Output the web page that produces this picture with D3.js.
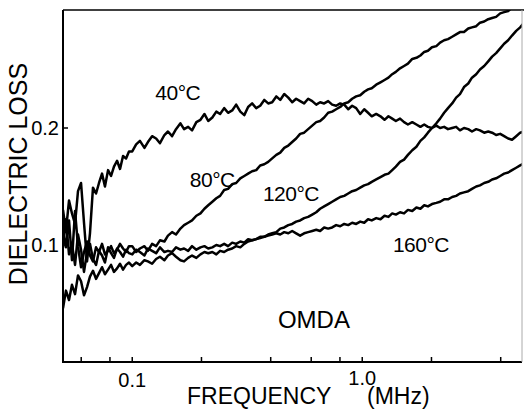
<!DOCTYPE html>
<html>
<head>
<meta charset="utf-8">
<script src="https://cdn.jsdelivr.net/npm/d3@7"></script>
<style>
  body { margin: 0; background: #fff; }
  text { font-family: "Liberation Sans", Arial, sans-serif; fill: #000; }
</style>
</head>
<body>
<div id="chart"></div>
<script>
// ---------------------------------------
// data (frequency in MHz, dielectric loss)
const freq = [
  0.0500, 0.0515, 0.0531, 0.0547, 0.0564, 0.0581, 0.0599, 0.0617, 0.0636, 0.0655, 0.0675, 0.0696,
  0.0717, 0.0739, 0.0761, 0.0785, 0.0809, 0.0833, 0.0859, 0.0885, 0.0912, 0.0940, 0.0968,
  0.100, 0.104, 0.108, 0.113, 0.117, 0.122, 0.127, 0.132, 0.138, 0.143, 0.149, 0.155, 0.162, 0.168,
  0.175, 0.182, 0.190, 0.198, 0.206, 0.214, 0.223, 0.232, 0.241, 0.251, 0.261, 0.272, 0.283, 0.295,
  0.307, 0.319, 0.332, 0.346, 0.360, 0.375, 0.390, 0.406, 0.423, 0.440, 0.458, 0.477, 0.496, 0.516,
  0.537, 0.559, 0.582, 0.606, 0.631, 0.656, 0.683, 0.711, 0.740, 0.770, 0.802, 0.835, 0.869, 0.904,
  0.941, 0.980, 1.02, 1.06, 1.10, 1.15, 1.20, 1.25, 1.30, 1.35, 1.40, 1.46, 1.52, 1.58, 1.65, 1.72,
  1.79, 1.86, 1.93, 2.01, 2.10, 2.18, 2.27, 2.36, 2.46, 2.56, 2.66, 2.77, 2.89, 3.00, 3.13, 3.25,
  3.39, 3.53, 3.67, 3.82, 3.98, 4.14, 4.31, 4.48, 4.67, 4.86, 5.06
];

const loss40 = [
  0.130, 0.112, 0.138, 0.127, 0.118, 0.146, 0.153, 0.119, 0.086, 0.110, 0.149, 0.144,
  0.153, 0.161, 0.150, 0.164, 0.159, 0.167, 0.172, 0.165, 0.176, 0.174, 0.180,
  0.180, 0.186, 0.189, 0.183, 0.188, 0.193, 0.191, 0.187, 0.194, 0.197, 0.193, 0.199, 0.204, 0.199,
  0.201, 0.198, 0.205, 0.207, 0.212, 0.206, 0.209, 0.214, 0.212, 0.217, 0.213, 0.215, 0.220, 0.214,
  0.211, 0.218, 0.221, 0.217, 0.219, 0.224, 0.221, 0.222, 0.227, 0.224, 0.229, 0.226, 0.222, 0.225,
  0.223, 0.221, 0.225, 0.223, 0.220, 0.222, 0.221, 0.223, 0.220, 0.219, 0.221, 0.220, 0.216, 0.219,
  0.217, 0.212, 0.216, 0.213, 0.210, 0.212, 0.210, 0.207, 0.210, 0.208, 0.206, 0.208, 0.205, 0.203,
  0.205, 0.203, 0.201, 0.203, 0.201, 0.200, 0.202, 0.200, 0.201, 0.199, 0.200, 0.201, 0.198, 0.200,
  0.199, 0.197, 0.199, 0.198, 0.196, 0.197, 0.196, 0.194, 0.195, 0.193, 0.191, 0.190, 0.193, 0.196,
  0.197
];

const loss80 = [
  0.112, 0.098, 0.121, 0.087, 0.129, 0.099, 0.081, 0.094, 0.103, 0.091, 0.086, 0.098,
  0.094, 0.101, 0.092, 0.095, 0.099, 0.093, 0.096, 0.101, 0.097, 0.094, 0.099,
  0.099, 0.094, 0.097, 0.099, 0.095, 0.101, 0.099, 0.104, 0.103, 0.108, 0.111, 0.109, 0.114, 0.117,
  0.119, 0.121, 0.125, 0.127, 0.131, 0.134, 0.137, 0.140, 0.142, 0.147, 0.148, 0.152, 0.153, 0.157,
  0.159, 0.161, 0.163, 0.164, 0.168, 0.169, 0.171, 0.174, 0.177, 0.179, 0.183, 0.185, 0.188, 0.191,
  0.195, 0.196, 0.199, 0.202, 0.205, 0.206, 0.209, 0.213, 0.214, 0.216, 0.218, 0.221, 0.222, 0.225,
  0.227, 0.228, 0.231, 0.233, 0.234, 0.237, 0.239, 0.241, 0.243, 0.246, 0.248, 0.251, 0.253, 0.255,
  0.259, 0.260, 0.262, 0.265, 0.266, 0.269, 0.270, 0.273, 0.275, 0.276, 0.278, 0.280, 0.282, 0.282,
  0.285, 0.286, 0.287, 0.290, 0.291, 0.293, 0.294, 0.295, 0.298, 0.299, 0.300, 0.303, 0.304, 0.306,
  0.308
];

const loss120 = [
  0.098, 0.122, 0.092, 0.101, 0.083, 0.109, 0.096, 0.077, 0.094, 0.101, 0.088, 0.083,
  0.095, 0.091, 0.085, 0.098, 0.093, 0.089, 0.097, 0.094, 0.090, 0.096, 0.093,
  0.092, 0.096, 0.094, 0.091, 0.097, 0.095, 0.093, 0.098, 0.094, 0.095, 0.094, 0.098, 0.096, 0.097,
  0.095, 0.099, 0.096, 0.098, 0.099, 0.097, 0.098, 0.100, 0.099, 0.101, 0.099, 0.102, 0.101, 0.103,
  0.102, 0.105, 0.104, 0.105, 0.107, 0.107, 0.109, 0.110, 0.111, 0.114, 0.115, 0.117, 0.118, 0.120,
  0.121, 0.123, 0.124, 0.126, 0.128, 0.131, 0.133, 0.135, 0.137, 0.139, 0.141, 0.142, 0.144, 0.146,
  0.147, 0.149, 0.151, 0.152, 0.154, 0.156, 0.158, 0.160, 0.161, 0.164, 0.167, 0.171, 0.173, 0.177,
  0.181, 0.184, 0.189, 0.192, 0.196, 0.200, 0.204, 0.208, 0.213, 0.217, 0.221, 0.226, 0.229, 0.235,
  0.238, 0.243, 0.246, 0.250, 0.253, 0.257, 0.261, 0.264, 0.268, 0.272, 0.275, 0.279, 0.283, 0.286,
  0.290
];

const loss160 = [
  0.046, 0.061, 0.053, 0.066, 0.058, 0.074, 0.069, 0.057, 0.064, 0.073, 0.078, 0.071,
  0.076, 0.081, 0.075, 0.079, 0.083, 0.077, 0.080, 0.084, 0.079, 0.083, 0.085,
  0.082, 0.085, 0.083, 0.087, 0.086, 0.084, 0.088, 0.090, 0.087, 0.091, 0.093, 0.090, 0.087, 0.086,
  0.089, 0.091, 0.089, 0.092, 0.094, 0.093, 0.094, 0.092, 0.095, 0.094, 0.096, 0.097, 0.099, 0.098,
  0.101, 0.103, 0.104, 0.105, 0.106, 0.107, 0.108, 0.109, 0.110, 0.109, 0.111, 0.110, 0.112, 0.110,
  0.108, 0.110, 0.111, 0.112, 0.113, 0.112, 0.115, 0.114, 0.115, 0.117, 0.116, 0.118, 0.117, 0.119,
  0.118, 0.120, 0.119, 0.122, 0.121, 0.123, 0.122, 0.125, 0.124, 0.127, 0.126, 0.128, 0.127, 0.130,
  0.129, 0.132, 0.131, 0.134, 0.133, 0.135, 0.136, 0.137, 0.139, 0.139, 0.141, 0.142, 0.144, 0.145,
  0.146, 0.148, 0.150, 0.151, 0.153, 0.154, 0.156, 0.157, 0.159, 0.161, 0.162, 0.164, 0.166, 0.168,
  0.170
];

const seriesLoss = [loss40, loss80, loss120, loss160];

// curve annotations, anchored in data units
const curveLabels = ["40\u00B0C", "80\u00B0C", "120\u00B0C", "160\u00B0C"];
const labelFreq = [0.126, 0.178, 0.370, 1.36];
const labelLoss = [0.224, 0.1496, 0.1376, 0.094];

// ticks
const xTickVals = [0.06, 0.08, 0.1, 0.2, 0.4, 0.6, 0.8, 1, 2, 4];
const xLabelVals = [0.1, 1];
const xLabelText = ["0.1", "1.0"];
const yTickVals = [0.1, 0.2];
const yLabelText = ["0.1", "0.2"];

// ---------------------------------------
// svg params
const W = 524, H = 410;
const margin = {top: 10, right: 1, bottom: 48, left: 63};

const svg = d3.select("#chart")
    .append("svg")
    .attr("width", W)
    .attr("height", H);

const x = d3.scaleLog()
    .domain([0.05, 5])
    .range([margin.left, W - margin.right]);

const y = d3.scaleLinear()
    .domain([0, 0.3])
    .range([H - margin.bottom, 11]);

const x0 = margin.left, x1 = W - 2;
const y0 = H - margin.bottom, yTop = margin.top;

svg.append("clipPath")
    .attr("id", "plotclip")
    .append("rect")
    .attr("x", x0)
    .attr("y", yTop)
    .attr("width", x1 - x0)
    .attr("height", y0 - yTop);

// ---------------------------------------
// curves
const line = d3.line()
    .x((d) => x(d[0]))
    .y((d) => y(d[1]));

svg.append("g")
    .attr("clip-path", "url(#plotclip)")
    .selectAll("path")
    .data(seriesLoss)
    .enter()
    .append("path")
    .attr("d", (s) => line(d3.zip(freq, s)))
    .attr("fill", "none")
    .attr("stroke", "#000")
    .attr("stroke-width", 2.5)
    .attr("stroke-linejoin", "round");

// ---------------------------------------
// frame
svg.append("line")
    .attr("x1", x0).attr("x2", x0).attr("y1", yTop).attr("y2", y0 + 1)
    .attr("stroke", "#000").attr("stroke-width", 2);
svg.append("line")
    .attr("x1", x0).attr("x2", x1).attr("y1", y0).attr("y2", y0)
    .attr("stroke", "#000").attr("stroke-width", 2);
svg.append("line")
    .attr("x1", x0).attr("x2", W).attr("y1", yTop).attr("y2", yTop)
    .attr("stroke", "#000").attr("stroke-width", 1.6);
svg.append("line")
    .attr("x1", x1).attr("x2", x1).attr("y1", yTop).attr("y2", y0)
    .attr("stroke", "#aaa").attr("stroke-width", 1);

// x ticks (inward)
svg.append("g")
    .selectAll("line")
    .data(xTickVals)
    .enter()
    .append("line")
    .attr("x1", (d) => x(d)).attr("x2", (d) => x(d))
    .attr("y1", y0).attr("y2", y0 - 5)
    .attr("stroke", "#000").attr("stroke-width", 1.5);

svg.append("g")
    .selectAll("text")
    .data(xLabelVals)
    .enter()
    .append("text")
    .attr("x", (d) => x(d))
    .attr("y", (d, i) => y0 + (i === 0 ? 25 : 23))
    .attr("text-anchor", "middle")
    .attr("font-size", 20)
    .text((d, i) => xLabelText[i]);

// y ticks (inward)
svg.append("g")
    .selectAll("line")
    .data(yTickVals)
    .enter()
    .append("line")
    .attr("x1", x0).attr("x2", x0 + 5)
    .attr("y1", (d) => y(d)).attr("y2", (d) => y(d))
    .attr("stroke", "#000").attr("stroke-width", 1.5);

svg.append("g")
    .selectAll("text")
    .data(yTickVals)
    .enter()
    .append("text")
    .attr("x", x0 - 4)
    .attr("y", (d) => y(d) + 7)
    .attr("text-anchor", "end")
    .attr("font-size", 20)
    .text((d, i) => yLabelText[i]);

// axis titles
svg.append("text")
    .attr("transform", "translate(27,174) rotate(-90)")
    .attr("text-anchor", "middle")
    .attr("font-size", 25)
    .text("DIELECTRIC LOSS");

svg.append("text")
    .attr("x", 187)
    .attr("y", 404)
    .attr("font-size", 23)
    .text("FREQUENCY");

svg.append("text")
    .attr("x", 367)
    .attr("y", 404)
    .attr("font-size", 23)
    .text("(MHz)");

// curve labels
svg.append("g")
    .selectAll("text")
    .data(curveLabels)
    .enter()
    .append("text")
    .attr("x", (d, i) => x(labelFreq[i]))
    .attr("y", (d, i) => y(labelLoss[i]))
    .attr("font-size", 21)
    .attr("letter-spacing", -0.5)
    .text((d) => d);

svg.append("text")
    .attr("x", x(0.43))
    .attr("y", y(0.029))
    .attr("font-size", 24)
    .text("OMDA");
</script>
</body>
</html>
